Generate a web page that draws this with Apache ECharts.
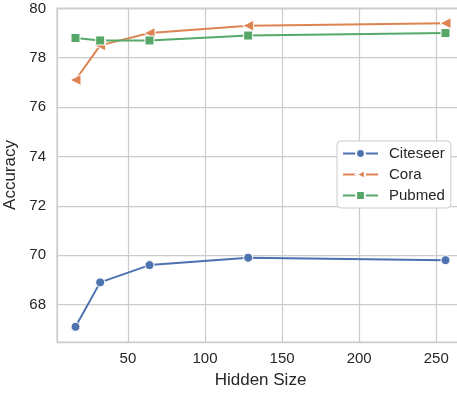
<!DOCTYPE html>
<html><head><meta charset="utf-8">
<script src="https://cdn.jsdelivr.net/npm/echarts@6/dist/echarts.min.js"></script>
<style>html,body{margin:0;padding:0;background:#fff}#c{width:457px;height:394px}</style>
</head><body><div id="c"></div>
<script>
const hiddenSizes = [16, 32, 64, 128, 256];
const citeseer = [67.1, 68.9, 69.6, 69.9, 69.8];
const cora = [77.1, 78.5, 79.0, 79.3, 79.4];
const pubmed = [78.8, 78.7, 78.7, 78.9, 79.0];
const seriesNames = ['Citeseer', 'Cora', 'Pubmed'];
const colors = ['#4C72B0', '#DD8452', '#55A868'];

const pairs = arr => hiddenSizes.map((x, i) => [x, arr[i]]);
const txt = '#262626';
const font = 'Liberation Sans, Arial, sans-serif';

const chart = echarts.init(document.getElementById('c'), null, {renderer: 'canvas'});
function mk(name, data, color, symbol, rot, size) {
  return {
    name, type: 'line', data: pairs(data), symbol, symbolSize: size, symbolRotate: rot,
    showAllSymbol: true,
    lineStyle: {color, width: 2}, itemStyle: {color, borderColor: '#fff', borderWidth: 1},
    emphasis: {disabled: true}, animation: false, z: 3
  };
}
chart.setOption({
  animation: false,
  backgroundColor: '#fff',
  color: colors,
  grid: {left: 57, top: 8, width: 407, height: 334, show: true, borderColor: '#cccccc', borderWidth: 1.25,
    backgroundColor: 'transparent', containLabel: false, outerBoundsMode: 'none'},
  xAxis: {
    type: 'value', min: 4, max: 268, splitNumber: 5,
    name: 'Hidden Size', nameLocation: 'middle', nameGap: 30,
    nameTextStyle: {color: txt, fontSize: 17, fontFamily: font},
    axisLine: {show: false}, axisTick: {show: false},
    axisLabel: {color: txt, fontSize: 15, fontFamily: font, margin: 9,
      formatter: v => (Math.abs(v % 50) < 1e-6 ? String(v) : '')},
    splitLine: {show: true, lineStyle: {color: '#cccccc', width: 1.25}}
  },
  yAxis: {
    type: 'value', min: 66.485, max: 80.015, splitNumber: 7,
    name: 'Accuracy', nameLocation: 'middle', nameGap: 34,
    nameTextStyle: {color: txt, fontSize: 17, fontFamily: font},
    axisLine: {show: false}, axisTick: {show: false},
    axisLabel: {color: txt, fontSize: 15, fontFamily: font, margin: 11,
      formatter: v => { const r = Math.round(v); return (Math.abs(v - r) < 1e-6 && r % 2 === 0) ? String(r) : ''; }},
    splitLine: {show: true, lineStyle: {color: '#cccccc', width: 1.25}}
  },
  legend: {
    orient: 'vertical', left: 337, top: 141,
    data: seriesNames,
    itemWidth: 35, itemHeight: 11, itemGap: 6,
    padding: [5, 6, 5, 5],
    backgroundColor: '#fff', borderColor: '#cccccc', borderWidth: 1, borderRadius: 4,
    textStyle: {color: txt, fontSize: 15, fontFamily: font, lineHeight: 15, padding: [0, 0, 0, 6]}
  },
  series: [
    mk(seriesNames[0], citeseer, colors[0], 'circle', 0, 9),
    mk(seriesNames[1], cora, colors[1], 'triangle', 90, 11),
    mk(seriesNames[2], pubmed, colors[2], 'rect', 0, 9)
  ]
});
</script></body></html>
